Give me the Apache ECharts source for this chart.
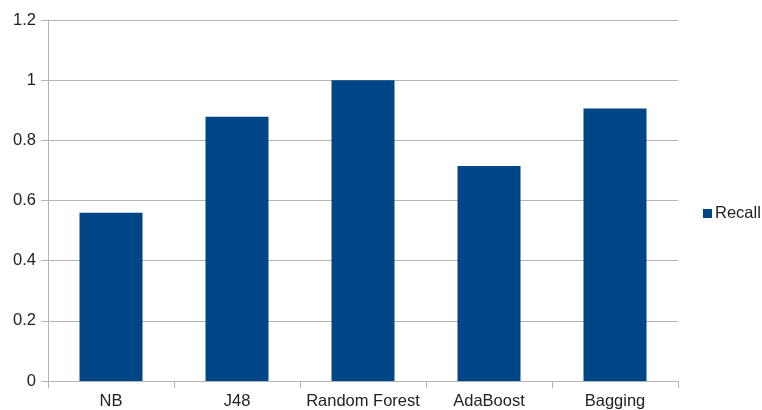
<!DOCTYPE html>
<html>
<head>
<meta charset="utf-8">
<script src="https://cdn.jsdelivr.net/npm/echarts@6/dist/echarts.min.js"></script>
<style>
  html, body { margin: 0; padding: 0; background: #fff; }
  #chart { width: 762px; height: 410px; }
</style>
</head>
<body>
<div id="chart"></div>
<script>
// Classifier recall comparison
const categories = ['NB', 'J48', 'Random Forest', 'AdaBoost', 'Bagging'];
const recallValues = [0.559, 0.878, 1.0, 0.715, 0.906];
const seriesName = 'Recall';

const FONT = 'Liberation Sans, Arial, sans-serif';
const chart = echarts.init(document.getElementById('chart'));
chart.setOption({
  animation: false,
  textStyle: { fontFamily: FONT },
  grid: { left: 48, right: 84, top: 20, bottom: 29, containLabel: false },
  legend: {
    data: [seriesName],
    orient: 'vertical',
    left: 698,
    top: 200,
    icon: 'rect',
    itemWidth: 9,
    itemHeight: 9,
    itemGap: 6,
    textStyle: { fontSize: 16.5, color: '#222', fontFamily: FONT, padding: [0, 0, 0, -2] }
  },
  xAxis: {
    type: 'category',
    data: categories,
    axisLine: { lineStyle: { color: '#b3b3b3', width: 1 } },
    axisTick: { show: true, length: 7, interval: 0, alignWithLabel: false, lineStyle: { color: '#b3b3b3' } },
    axisLabel: { fontSize: 16.5, color: '#222', margin: 12, interval: 0 },
    splitLine: { show: false }
  },
  yAxis: {
    type: 'value',
    min: 0,
    max: 1.2,
    interval: 0.2,
    axisLine: { show: true, lineStyle: { color: '#b3b3b3', width: 1 } },
    axisTick: { show: true, length: 7, lineStyle: { color: '#b3b3b3' } },
    axisLabel: {
      fontSize: 16.5, color: '#222', margin: 12,
      formatter: v => String(Math.round(v * 10) / 10)
    },
    splitLine: { show: true, lineStyle: { color: '#b3b3b3', width: 1 } }
  },
  series: [{
    name: seriesName,
    type: 'bar',
    data: recallValues,
    barWidth: '50%',
    itemStyle: { color: '#004586' }
  }]
});
</script>
</body>
</html>
